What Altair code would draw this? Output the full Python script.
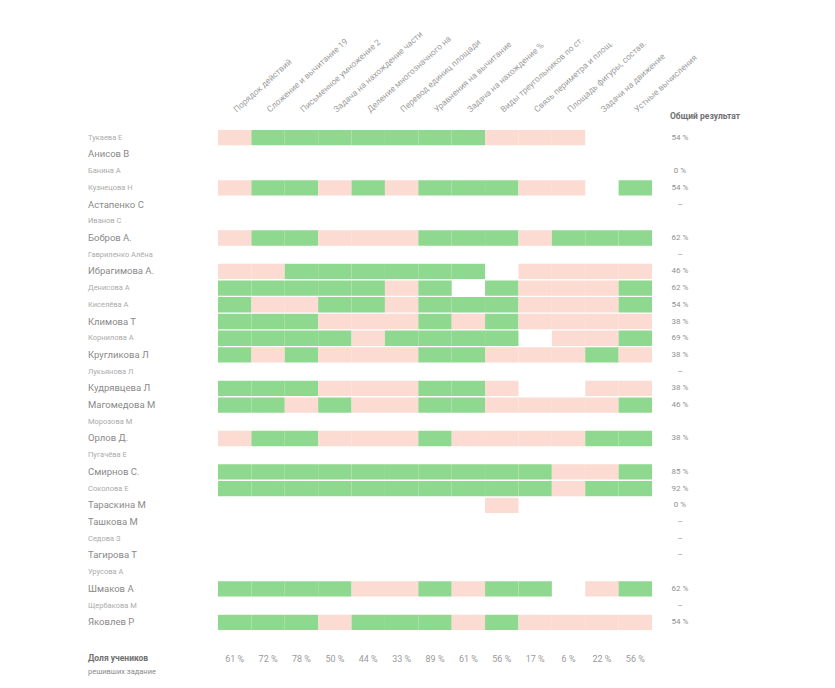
import altair as alt
import pandas as pd

tasks = [
    "Порядок действий",
    "Сложение и вычитание 19",
    "Письменное умножение 2",
    "Задача на нахождение части",
    "Деление многозначного на",
    "Перевод единиц площади",
    "Уравнения на вычитание",
    "Задача на нахождение %",
    "Виды треугольников по ст.",
    "Связь периметра и площ.",
    "Площадь фигуры, состав.",
    "Задачи на движение",
    "Устные вычисления",
]

names = [
    "Тукаева Е", "Анисов В", "Банина А", "Кузнецова Н", "Астапенко С",
    "Иванов С", "Бобров А.", "Гавриленко Алёна", "Ибрагимова А.", "Денисова А",
    "Киселёва А", "Климова Т", "Корнилова А", "Кругликова Л", "Лукьянова Л",
    "Кудрявцева Л", "Магомедова М", "Морозова М", "Орлов Д.", "Пугачёва Е",
    "Смирнов С.", "Соколова Е", "Тараскина М", "Ташкова М", "Седова З",
    "Тагирова Т", "Урусова А", "Шмаков А", "Щербакова М", "Яковлев Р",
]

big = [False, True, False, False, True, False, True, False, True, False,
       False, True, False, True, False, True, True, False, True, False,
       True, False, True, True, False, True, False, True, False, True]

# g = решено, p = не решено, . = нет данных
cells = [
    "pgggggggppp..",
    ".............",
    ".............",
    "pggpgpgggpp.g",
    ".............",
    ".............",
    "pggpppgggpggg",
    ".............",
    "ppgggggg.pppp",
    "gggggpg.gpppg",
    "gppggpgggpppg",
    "gggpppgpgpppp",
    "ggggpgggg.ppg",
    "gpgpppggpppgp",
    ".............",
    "gggpppggp..pp",
    "ggpgppggppppg",
    ".............",
    "pggpppgppppgg",
    ".............",
    "ggggggggggppg",
    "ggggggggggpgg",
    "........p....",
    ".............",
    ".............",
    ".............",
    ".............",
    "ggggppgpgg.pg",
    ".............",
    "gggpgggpgpppp",
]

row_result = [
    "54 %", "", "0 %", "54 %", "–", "", "62 %", "–", "46 %", "62 %",
    "54 %", "38 %", "69 %", "38 %", "–", "38 %", "46 %", "", "38 %", "",
    "85 %", "92 %", "0 %", "–", "–", "–", "", "62 %", "–", "54 %",
]

col_result = ["61 %", "72 %", "78 %", "50 %", "44 %", "33 %", "89 %",
              "61 %", "56 %", "17 %", "6 %", "22 %", "56 %"]

GREEN = "#8fd88f"
PINK = "#fbdbd2"
W, H = 434, 500

recs = []
for n, row in zip(names, cells):
    for t, c in zip(tasks, row):
        if c != ".":
            recs.append({"student": n, "task": t, "status": c})
cell_df = pd.DataFrame(recs)
name_df = pd.DataFrame({"student": names, "big": big, "result": row_result})
col_df = pd.DataFrame({"task": tasks, "result": col_result})
one = pd.DataFrame({"k": [0]})

FONT = "Roboto"

yenc = alt.Y("student:N", sort=names,
             scale=alt.Scale(domain=names, paddingInner=0.08, paddingOuter=0),
             axis=None)

heat = alt.Chart(cell_df).mark_rect().encode(
    x=alt.X("task:N", sort=tasks,
            scale=alt.Scale(domain=tasks, paddingInner=0, paddingOuter=0),
            axis=alt.Axis(orient="top", title=None, labelAngle=318,
                          labelAlign="left", labelBaseline="middle",
                          labelPadding=20, domain=False, ticks=False,
                          labelColor="#a0a0a0", labelFontSize=8.5,
                          labelFont=FONT, labelLimit=200)),
    y=yenc,
    color=alt.Color("status:N", scale=alt.Scale(domain=["g", "p"], range=[GREEN, PINK]),
                    legend=None),
)

name_text = alt.Chart(name_df).mark_text(align="left", baseline="middle", font=FONT).encode(
    x=alt.value(-130),
    y=yenc,
    text="student:N",
    size=alt.condition("datum.big", alt.value(9.5), alt.value(7.5)),
    color=alt.condition("datum.big", alt.value("#8a8a8a"), alt.value("#ababab")),
)

res_text = alt.Chart(name_df).mark_text(align="center", baseline="middle", font=FONT,
                                        fontSize=8, color="#909090").encode(
    x=alt.value(462),
    y=yenc,
    text="result:N",
)

col_text = alt.Chart(col_df).mark_text(align="center", baseline="middle", font=FONT,
                                       fontSize=9, color="#9a9a9a").encode(
    x=alt.X("task:N", sort=tasks),
    y=alt.value(529),
    text="result:N",
)

head = alt.Chart(one).mark_text(align="left", baseline="middle", font=FONT,
                                fontSize=8.5, fontWeight="bold", color="#707070").encode(
    x=alt.value(452), y=alt.value(-14), text=alt.value("Общий результат"))

foot1 = alt.Chart(one).mark_text(align="left", baseline="middle", font=FONT,
                                 fontSize=8.5, fontWeight="bold", color="#707070").encode(
    x=alt.value(-130), y=alt.value(528), text=alt.value("Доля учеников"))

foot2 = alt.Chart(one).mark_text(align="left", baseline="middle", font=FONT,
                                 fontSize=7.5, color="#8a8a8a").encode(
    x=alt.value(-130), y=alt.value(542), text=alt.value("решивших задание"))

chart = alt.layer(heat, name_text, res_text, col_text, head, foot1, foot2).properties(
    width=W, height=H,
    padding={"left": 210, "top": 122, "right": 120, "bottom": 50},
    autosize=alt.AutoSizeParams(type="none"),
    background="white",
).configure_view(stroke=None)

chart.save("out.html", embed_options={"renderer": "svg", "actions": False})
